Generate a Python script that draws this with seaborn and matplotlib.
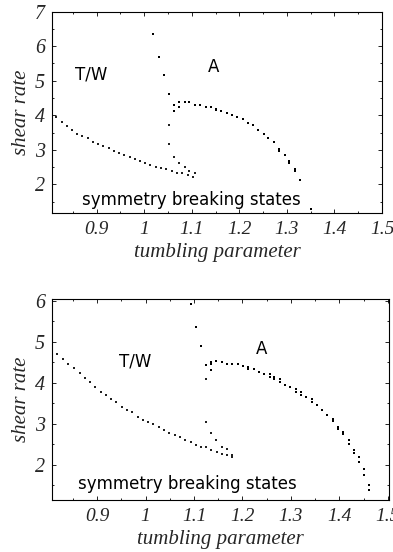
import matplotlib
matplotlib.use("Agg")
import matplotlib.pyplot as plt
import seaborn as sns
import pandas as pd
from matplotlib.ticker import MultipleLocator

sns.set_style("ticks")
plt.rcParams['font.family'] = ['DejaVu Sans']

# ---------------- top panel data ----------------
top_tw_x = [0.815, 0.826, 0.837, 0.848, 0.859, 0.870, 0.881, 0.892, 0.903, 0.914, 0.925,
            0.936, 0.947, 0.958, 0.969, 0.980, 0.991, 1.002, 1.013, 1.024, 1.035, 1.046,
            1.058, 1.069, 1.080, 1.091, 1.102]
top_tw_y = [3.94, 3.80, 3.68, 3.58, 3.47, 3.41, 3.33, 3.23, 3.16, 3.12, 3.05,
            2.98, 2.92, 2.86, 2.80, 2.74, 2.68, 2.62, 2.56, 2.49, 2.48, 2.44,
            2.39, 2.34, 2.33, 2.27, 2.21]
top_up_x = [1.0185, 1.030, 1.041, 1.052]
top_up_y = [6.35, 5.70, 5.16, 4.62]
top_low_x = [1.052, 1.052, 1.0625, 1.074, 1.085, 1.095, 1.106]
top_low_y = [3.71, 3.16, 2.80, 2.63, 2.49, 2.39, 2.32]
top_a_x = [1.0625, 1.063, 1.074, 1.074, 1.085, 1.095, 1.106, 1.118, 1.129, 1.140, 1.151,
           1.151, 1.162, 1.173, 1.185, 1.196, 1.207, 1.218, 1.229, 1.240, 1.251, 1.261,
           1.273, 1.284, 1.284, 1.295, 1.305, 1.305, 1.317, 1.317, 1.328, 1.350]
top_a_y = [4.30, 4.13, 4.38, 4.25, 4.38, 4.38, 4.30, 4.30, 4.24, 4.24, 4.19,
           4.14, 4.12, 4.07, 4.01, 3.94, 3.88, 3.77, 3.71, 3.57, 3.47, 3.34,
           3.22, 3.03, 2.97, 2.84, 2.68, 2.63, 2.44, 2.39, 2.12, 1.28]

# ---------------- bottom panel data ----------------
bot_tw_x = [0.818, 0.830, 0.841, 0.852, 0.864, 0.875, 0.8856, 0.8965, 0.9076, 0.9186,
            0.9295, 0.940, 0.951, 0.962, 0.973, 0.984, 0.994, 1.005, 1.016, 1.027,
            1.038, 1.049, 1.060, 1.071, 1.082, 1.093, 1.104, 1.114, 1.125, 1.136,
            1.147, 1.157, 1.168, 1.179]
bot_tw_y = [4.70, 4.59, 4.47, 4.36, 4.24, 4.13, 4.02, 3.90, 3.78, 3.71,
            3.60, 3.53, 3.41, 3.35, 3.29, 3.17, 3.10, 3.04, 2.99, 2.92,
            2.85, 2.79, 2.73, 2.68, 2.61, 2.55, 2.49, 2.43, 2.43, 2.37,
            2.31, 2.26, 2.25, 2.19]
bot_up_x = [1.093, 1.1035, 1.114]
bot_up_y = [5.93, 5.37, 4.89]
bot_low_x = [1.125, 1.125, 1.136, 1.146, 1.157, 1.169, 1.179]
bot_low_y = [4.09, 3.04, 2.79, 2.61, 2.45, 2.38, 2.25]
bot_a_x = [1.125, 1.136, 1.136, 1.136, 1.146, 1.157, 1.168, 1.179, 1.190, 1.201, 1.212,
           1.212, 1.223, 1.234, 1.245, 1.256, 1.256, 1.266, 1.266, 1.277, 1.277, 1.288,
           1.299, 1.310, 1.310, 1.321, 1.321, 1.332, 1.343, 1.343, 1.354, 1.365, 1.375,
           1.386, 1.386, 1.397, 1.397, 1.408, 1.408, 1.419, 1.419, 1.430, 1.430, 1.440,
           1.440, 1.451, 1.451, 1.462, 1.462]
bot_a_y = [4.45, 4.52, 4.46, 4.32, 4.53, 4.52, 4.46, 4.46, 4.46, 4.41, 4.40,
           4.33, 4.33, 4.27, 4.21, 4.21, 4.15, 4.15, 4.09, 4.09, 4.02, 3.96,
           3.89, 3.85, 3.79, 3.77, 3.71, 3.65, 3.60, 3.54, 3.46, 3.34, 3.23,
           3.11, 3.07, 2.93, 2.87, 2.80, 2.75, 2.61, 2.50, 2.37, 2.30, 2.19,
           2.08, 1.90, 1.76, 1.51, 1.39]

x_ticks = [0.9, 1.0, 1.1, 1.2, 1.3, 1.4, 1.5]
x_tick_labels = ["0.9", "1", "1.1", "1.2", "1.3", "1.4", "1.5"]
top_y_ticks = [2, 3, 4, 5, 6, 7]
bot_y_ticks = [2, 3, 4, 5, 6]
region_labels = ["T/W", "A", "symmetry breaking states"]

fig = plt.figure(figsize=(3.93, 5.52), dpi=100)
ax_top = fig.add_axes([0.1323, 0.6141, 0.8397, 0.3647])
ax_bot = fig.add_axes([0.1323, 0.0942, 0.8583, 0.3636])

serif = dict(family=['Liberation Serif', 'DejaVu Serif'], style='italic')


def draw(ax, tw_x, tw_y, up_x, up_y, low_x, low_y, a_x, a_y):
    small = dict(color='#202020', marker='s', s=1.6, linewidth=0, ax=ax, legend=False)
    big = dict(color='black', marker='s', s=4.0, linewidth=0, ax=ax, legend=False)
    sns.scatterplot(data=pd.DataFrame({'x': tw_x, 'y': tw_y}), x='x', y='y', **small)
    sns.scatterplot(data=pd.DataFrame({'x': low_x, 'y': low_y}), x='x', y='y', **small)
    sns.scatterplot(data=pd.DataFrame({'x': up_x, 'y': up_y}), x='x', y='y', **big)
    sns.scatterplot(data=pd.DataFrame({'x': a_x, 'y': a_y}), x='x', y='y', **big)


draw(ax_top, top_tw_x, top_tw_y, top_up_x, top_up_y, top_low_x, top_low_y, top_a_x, top_a_y)
draw(ax_bot, bot_tw_x, bot_tw_y, bot_up_x, bot_up_y, bot_low_x, bot_low_y, bot_a_x, bot_a_y)

ax_top.set_xlim(0.806, 1.497)
ax_top.set_ylim(1.17, 7.0)
ax_bot.set_xlim(0.807, 1.503)
ax_bot.set_ylim(1.146, 6.04)

for ax, yt in ((ax_top, top_y_ticks), (ax_bot, bot_y_ticks)):
    ax.set_xticks(x_ticks)
    ax.set_xticklabels(x_tick_labels, **serif, fontsize=14)
    ax.set_yticks(yt)
    ax.set_yticklabels([str(v) for v in yt], **serif, fontsize=14.5)
    ax.xaxis.set_minor_locator(MultipleLocator(0.05))
    ax.yaxis.set_minor_locator(MultipleLocator(0.5))
    ax.tick_params(which='both', direction='in', top=True, right=True, color='black',
                   width=0.6)
    ax.tick_params(axis='x', which='both', pad=6)
    ax.tick_params(axis='y', which='both', pad=5)
    ax.tick_params(which='major', length=3)
    ax.tick_params(which='minor', length=1.5)
    ax.set_xlabel("tumbling parameter", **serif, fontsize=15, labelpad=3)
    ax.set_ylabel("shear rate", **serif, fontsize=15, labelpad=3)
    for sp in ax.spines.values():
        sp.set_visible(True)
        sp.set_linewidth(0.8)
        sp.set_color('black')

ann = dict(fontsize=12, family=['DejaVu Sans'], ha='center', va='center', color='black')
ax_top.text(0.120, 0.686, region_labels[0], transform=ax_top.transAxes, **ann)
ax_top.text(0.491, 0.727, region_labels[1], transform=ax_top.transAxes, **ann)
ax_top.text(0.421, 0.065, region_labels[2], transform=ax_top.transAxes, **ann)
ax_bot.text(0.246, 0.692, region_labels[0], transform=ax_bot.transAxes, **ann)
ax_bot.text(0.620, 0.753, region_labels[1], transform=ax_bot.transAxes, **ann)
ax_bot.text(0.401, 0.078, region_labels[2], transform=ax_bot.transAxes, **ann)

fig.savefig("out.png", dpi=100)
